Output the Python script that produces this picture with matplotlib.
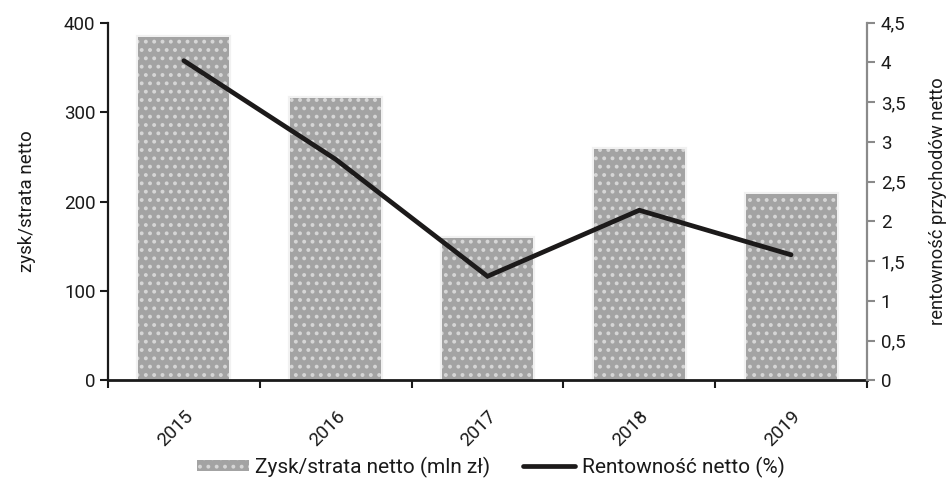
import matplotlib
matplotlib.use("Agg")
import matplotlib.pyplot as plt
from matplotlib.ticker import FuncFormatter, FixedLocator
import numpy as np

years = ["2015", "2016", "2017", "2018", "2019"]
profit = [384, 316, 159, 259, 208]          # zysk/strata netto (mln zł)
margin = [4.02, 2.78, 1.31, 2.14, 1.58]     # rentowność netto (%)

left_ticks = [0, 100, 200, 300, 400]
right_ticks = [0, 0.5, 1, 1.5, 2, 2.5, 3, 3.5, 4, 4.5]

plt.rcParams["font.family"] = ["Roboto", "DejaVu Sans"]
plt.rcParams["hatch.linewidth"] = 1.6

FS = 13.5
fig = plt.figure(figsize=(9.47, 4.82), dpi=100)
ax = fig.add_axes([0.114, 0.2106, 0.8015, 0.7427])
ax2 = ax.twinx()

x = np.arange(len(years))
bar_color = "#a3a3a3"
ax.bar(x, profit, width=0.6, color="#ececec", linewidth=3, edgecolor="#f1f1f1", zorder=1)
bars = ax.bar(x, profit, width=0.6, color=bar_color, edgecolor="#d6d6d6",
              linewidth=0, hatch="..", zorder=2, label="Zysk/strata netto (mln zł)")

line, = ax2.plot(x, margin, color="#1c1a1a", linewidth=3.4, solid_capstyle="round",
                 solid_joinstyle="miter", label="Rentowność netto (%)", zorder=3)

ax.set_xlim(-0.5, len(years) - 0.5)
ax.set_ylim(0, 400)
ax2.set_ylim(0, 4.5)

ax.yaxis.set_major_locator(FixedLocator(left_ticks))
ax2.yaxis.set_major_locator(FixedLocator(right_ticks))
ax2.yaxis.set_major_formatter(FuncFormatter(lambda v, p: f"{v:g}".replace(".", ",")))

ax.set_xticks(x)
ax.set_xticklabels(years, rotation=45, ha="right", va="top", rotation_mode="anchor")
ax.set_xticks(np.arange(-0.5, len(years)), minor=True)
ax.tick_params(axis="x", which="major", length=0, pad=19, labelsize=FS, colors="#1a1a1a")
ax.tick_params(axis="x", which="minor", length=6, width=1.5, color="#1a1a1a")

ax.tick_params(axis="y", length=6, width=1.5, color="#1a1a1a", labelsize=FS,
               labelcolor="#1a1a1a", pad=3)
ax2.tick_params(axis="y", length=6, width=1.5, color="#8a8a8a", labelsize=FS,
                labelcolor="#1a1a1a", pad=4)

for side in ["top", "right"]:
    ax.spines[side].set_visible(False)
for side in ["top", "left", "bottom"]:
    ax2.spines[side].set_visible(False)
ax.spines["left"].set_linewidth(1.6)
ax.spines["left"].set_color("#1a1a1a")
ax.spines["bottom"].set_linewidth(2)
ax.spines["bottom"].set_color("#1a1a1a")
ax2.spines["right"].set_linewidth(1.6)
ax2.spines["right"].set_color("#8a8a8a")

ax.set_ylabel("zysk/strata netto", fontsize=FS, color="#1a1a1a", labelpad=20)
ax2.set_ylabel("rentowność przychodów netto", fontsize=13.2, color="#1a1a1a",
               rotation=90, labelpad=17)

ax.set_zorder(ax2.get_zorder() - 1)
ax2.patch.set_visible(False)

fig.legend([bars, line], ["Zysk/strata netto (mln zł)", "Rentowność netto (%)"],
           loc="center", bbox_to_anchor=(0.518, 0.031), ncol=2, frameon=False,
           fontsize=15, handlelength=2.5, handleheight=0.45, handletextpad=0.3,
           columnspacing=1.6, labelcolor="#1a1a1a")

fig.savefig("out.png", dpi=100)
